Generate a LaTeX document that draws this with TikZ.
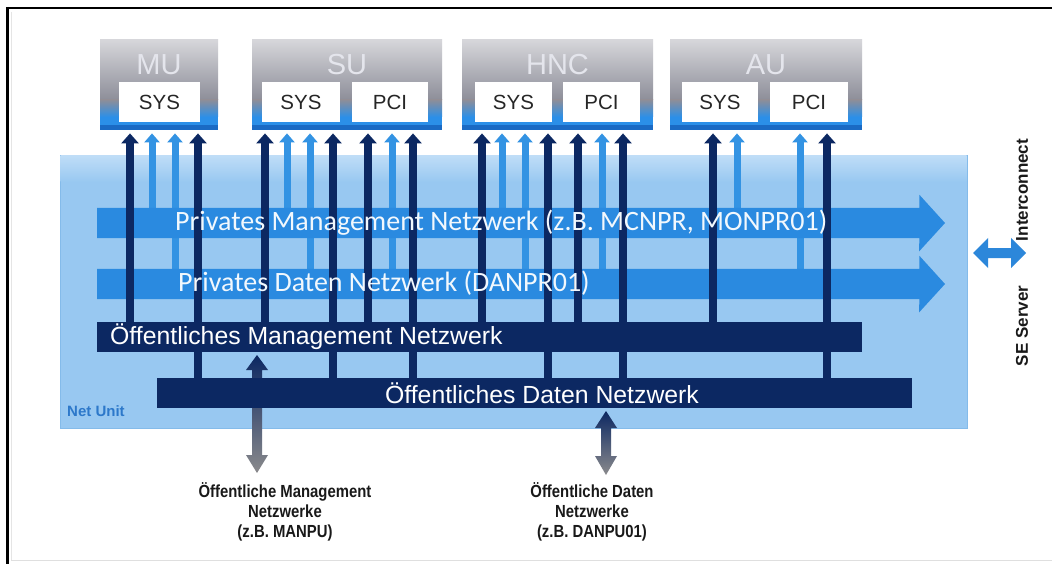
\documentclass[tikz,border=0pt]{standalone}
\usepackage{fontspec}
\setmainfont{Liberation Sans}
\newfontfamily\calfont{Carlito}
\newfontfamily\narrowfont{Liberation Sans}[FakeStretch=0.85]
\usetikzlibrary{arrows.meta}
\definecolor{navy}{HTML}{0C2862}
\definecolor{midblue}{HTML}{2A8AE0}
\definecolor{ltline}{HTML}{3393E3}
\definecolor{lightbg}{HTML}{98C8F1}
\definecolor{bgtop}{HTML}{BFDDF7}
\definecolor{bgedge}{HTML}{84BBEA}
\definecolor{modtop}{HTML}{D6D6DA}
\definecolor{modgray}{HTML}{8D8E99}
\definecolor{modblue}{HTML}{2B8FE8}
\definecolor{moddark}{HTML}{1A6AC4}
\definecolor{modtitlecol}{HTML}{E4E5EC}
\definecolor{extgray}{HTML}{8A8A8C}
\definecolor{netlabel}{HTML}{2C78CA}
\definecolor{seblue}{HTML}{2C87DA}
\newcommand\mkmodule[4]{%
  \shade[top color=modtop, bottom color=modgray] (#2,40) rectangle (#3,100);
  \shade[top color=modgray, bottom color=modblue] (#2,100) rectangle (#3,117);
  \fill[modblue] (#2,117) rectangle (#3,125);
  \fill[moddark] (#2,125) rectangle (#3,130);
  \node[inner sep=0, minimum width={#3-#2}, minimum height=90, anchor=north west] (#1) at (#2,40) {};
  \node[modtitle] (#1-title) at ({(#2+#3)/2},65) {#4};
}
\begin{document}
\begin{tikzpicture}[x=1pt,y=-1pt,
  dk/.style={draw=navy, line width=8pt, -{Triangle[width=17pt,length=10pt]}, shorten >=3pt},
  lt/.style={draw=ltline, line width=7pt, -{Triangle[width=15pt,length=9pt]}, shorten >=3pt},
  unitbox/.style={fill=white, draw=none, minimum height=40, inner sep=0, font=\fontsize{20.5}{21}\selectfont, text=black!85},
  modtitle/.style={font=\fontsize{29}{29}\selectfont, text=modtitlecol, inner sep=0},
  privtext/.style={font=\calfont\fontsize{28}{28}\selectfont, text=white!94!midblue, anchor=west, inner sep=0},
  pubtext/.style={font=\fontsize{24.8}{25}\selectfont, text=white, inner sep=0},
  extlabel/.style={font=\narrowfont\bfseries\fontsize{17.5}{20}\selectfont, align=center, text=black!90, inner sep=0},
  selabel/.style={font=\bfseries\fontsize{17}{17}\selectfont, rotate=90, text=black!90, inner sep=0},
]
\useasboundingbox (0,0) rectangle (1052,564);
\fill[white] (0,0) rectangle (1052,564);
% frame
\draw[gray!25, line width=0.8pt] (11,560) -- (1052,560);
\draw[gray!20, line width=0.8pt] (11.5,12) -- (11.5,560);
\draw[black, line width=2.2pt] (6,8) -- (1052,8);
\draw[black, line width=2.2pt] (7.5,7) -- (7.5,564);

% net unit background
\node[fill=lightbg, draw=bgedge, line width=1pt, inner sep=0, minimum width=907, minimum height=273, anchor=north west] (net) at (60,155) {};
\shade[top color=bgtop, bottom color=lightbg] (60.5,155.5) rectangle (966.5,182);

% modules
\mkmodule{mu}{100}{218}{MU}
\mkmodule{su}{252}{442}{SU}
\mkmodule{hnc}{462}{653}{HNC}
\mkmodule{au}{670}{862}{AU}

\node[unitbox, minimum width=81] (musys) at (159.5,102) {SYS};
\node[unitbox, minimum width=78] (susys) at (301,102) {SYS};
\node[unitbox, minimum width=76] (supci) at (390,102) {PCI};
\node[unitbox, minimum width=77] (hncsys) at (513.5,102) {SYS};
\node[unitbox, minimum width=77] (hncpci) at (601.5,102) {PCI};
\node[unitbox, minimum width=76] (ausys) at (720,102) {SYS};
\node[unitbox, minimum width=78] (aupci) at (809,102) {PCI};

% network bars (named anchors)
\node[inner sep=0, minimum width=822, minimum height=30, anchor=west] (pmn) at (97,223) {};
\node[inner sep=0, minimum width=822, minimum height=30, anchor=west] (pdn) at (97,284) {};
\node[inner sep=0, minimum width=765, minimum height=30, anchor=west] (omn) at (97,337) {};
\node[inner sep=0, minimum width=755, minimum height=30, anchor=west] (odn) at (157,393) {};

% light lines to private networks
\foreach \x/\m in {152/mu,287/su,502/hnc,737/au}
  \draw[lt] (\x,0 |- pmn.center) -- (\x,0 |- \m.south);
\foreach \x/\m in {175/mu,310/su,392/su,525/hnc,602/hnc,800/au}
  \draw[lt] (\x,0 |- pdn.center) -- (\x,0 |- \m.south);

% private network arrows
\fill[midblue] (pmn.north west) -- (pmn.north east) -- ++(0,-13) -- (945,223) -- (919,251.5) -- (pmn.south east) -- (pmn.south west) -- cycle;
\fill[midblue] (pdn.north west) -- (pdn.north east) -- ++(0,-13) -- (945,284) -- (919,312.5) -- (pdn.south east) -- (pdn.south west) -- cycle;

% dark lines to public networks
\foreach \x/\m in {130/mu,265/su,368/su,482/hnc,578/hnc,713/au}
  \draw[dk] (\x,0 |- omn.center) -- (\x,0 |- \m.south);
\foreach \x/\m in {198/mu,333/su,413/su,548/hnc,623/hnc,827/au}
  \draw[dk] (\x,0 |- odn.center) -- (\x,0 |- \m.south);

% external arrows
\shade[top color=navy, middle color=midblue, bottom color=extgray]
  (257,355) -- (268,370) -- (262,370) -- (262,455) -- (268,455) -- (257,473)
  -- (246,455) -- (252,455) -- (252,370) -- (246,370) -- cycle;
\coordinate (mext) at (257,473);
\shade[top color=navy, middle color=midblue, bottom color=extgray]
  (606,411) -- (617,428) -- (611,428) -- (611,456) -- (617,456) -- (606,475)
  -- (595,456) -- (601,456) -- (601,428) -- (595,428) -- cycle;
\coordinate (dext) at (606,475);

% public network bars
\fill[navy] (omn.north west) rectangle (omn.south east);
\fill[navy] (odn.north west) rectangle (odn.south east);

% bar texts
\node[privtext] (pmnt) at (175,223) {Privates Management Netzwerk (z.B. MCNPR, MONPR01)};
\node[privtext] (pdnt) at (178,283) {Privates Daten Netzwerk (DANPR01)};
\node[pubtext, anchor=west] (omnt) at (110,337) {Öffentliches Management Netzwerk};
\node[pubtext] (odnt) at (542,393) {Öffentliches Daten Netzwerk};

% net unit label
\node[font=\bfseries\fontsize{15}{15}\selectfont, text=netlabel, anchor=west, inner sep=0] (netl) at (67,411) {Net Unit};

% SE server interconnect
\fill[seblue] (973,253) -- (988,238) -- (988,248) -- (1011,248) -- (1011,238) -- (1026,253)
  -- (1011,268) -- (1011,258) -- (988,258) -- (988,268) -- cycle;
\coordinate (sec) at (1000,253);
\node[selabel] (seint) at (1022,190) {Interconnect};
\node[selabel] (sesrv) at (1022,326) {SE Server};

% bottom labels
\node[extlabel, anchor=north] (mlab) at (285,482) {Öffentliche Management\\Netzwerke\\(z.B. MANPU)};
\node[extlabel, anchor=north] (dlab) at (592,482) {Öffentliche Daten\\Netzwerke\\(z.B. DANPU01)};
\end{tikzpicture}
\end{document}
